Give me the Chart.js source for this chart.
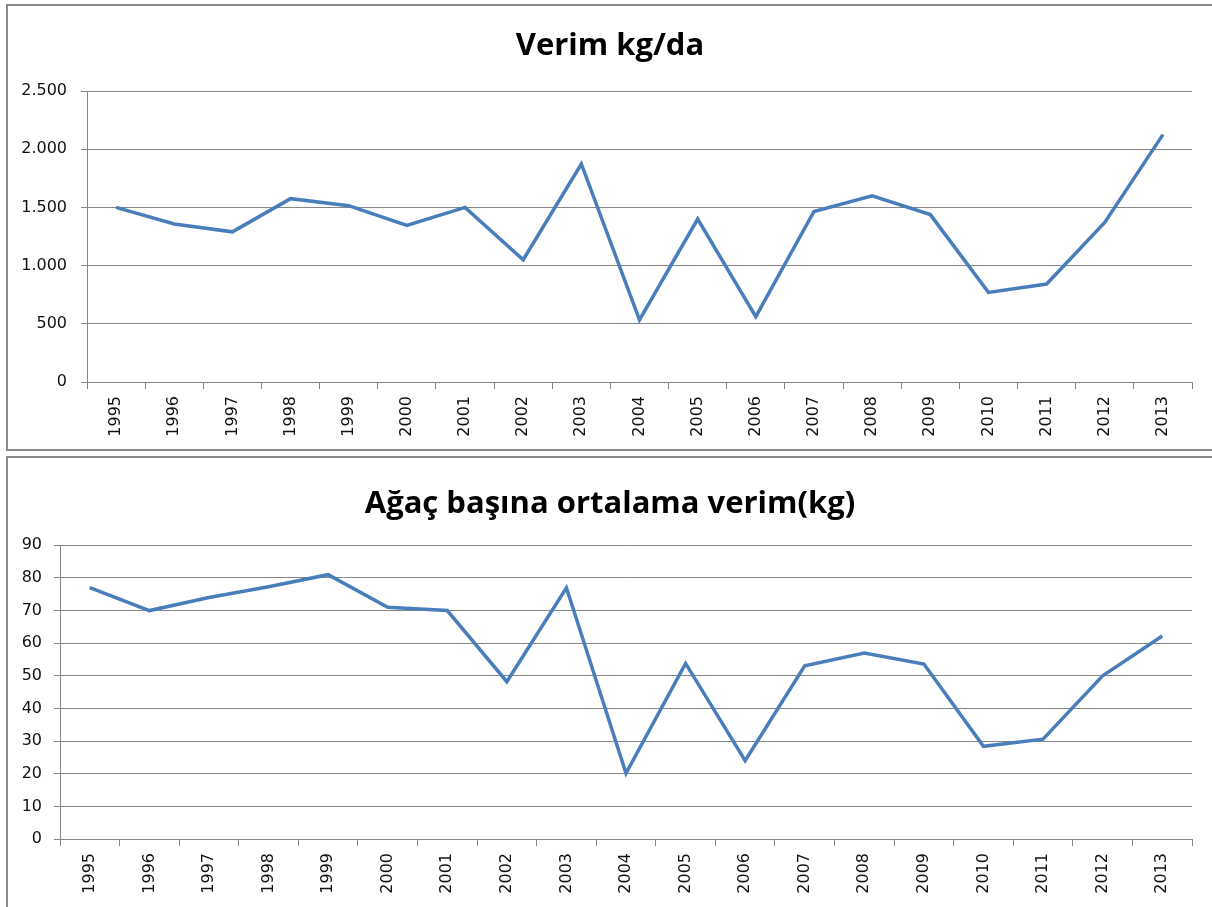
<!DOCTYPE html>
<html>
<head>
<meta charset="utf-8">
<script src="https://cdn.jsdelivr.net/npm/chart.js@4/dist/chart.umd.min.js"></script>
<style>
  html, body { margin:0; padding:0; background:#fff; width:1212px; height:907px; overflow:hidden; }
  .box { position:absolute; box-sizing:border-box; border:2px solid #898989; background:#fff; }
  canvas { position:absolute; left:0; }
</style>
</head>
<body>
<div class="box" style="left:6px; top:4px; width:1230px; height:447px;"></div>
<div class="box" style="left:6px; top:456px; width:1230px; height:470px;"></div>
<canvas id="c1" width="1212" height="452" style="top:0px;"></canvas>
<canvas id="c2" width="1212" height="455" style="top:452px;"></canvas>
<script>
const years = ['1995','1996','1997','1998','1999','2000','2001','2002','2003','2004','2005','2006','2007','2008','2009','2010','2011','2012','2013'];
const yieldPerDa = [1500,1357,1290,1575,1515,1345,1500,1050,1873,533,1400,561,1465,1600,1438,770,842,1370,2125];
const yieldPerTree = [77,70,74,77.3,81,71,70,48.2,77,20.1,53.8,24,53.1,57,53.6,28.4,30.6,50,62.2];
const topTitle = 'Verim kg/da';
const bottomTitle = 'Ağaç başına ortalama verim(kg)';
const topTickValues = [0,500,1000,1500,2000,2500];
const topTickLabels = ['0','500','1.000','1.500','2.000','2.500'];
const bottomTickValues = [0,10,20,30,40,50,60,70,80,90];
const bottomTickLabels = ['0','10','20','30','40','50','60','70','80','90'];

const LINE = '#4A7EBB';
const GRID = '#868686';
const TICKFONT = "'DejaVu Sans', sans-serif";
const TITLEFONT = "'Open Sans', 'DejaVu Sans', sans-serif";

const titlePlugin = {
  id: 'boxTitle',
  afterDraw(chart, args, opts) {
    const ctx = chart.ctx;
    ctx.save();
    ctx.font = 'bold 31px ' + TITLEFONT;
    ctx.fillStyle = '#000';
    ctx.textAlign = 'center';
    ctx.textBaseline = 'alphabetic';
    ctx.fillText(opts.text, opts.x, opts.baseline);
    ctx.restore();
  }
};

function makeChart(id, title, data, tickValues, tickLabels, cfg) {
  return new Chart(document.getElementById(id), {
    type: 'line',
    data: {
      labels: years,
      datasets: [{
        data: data,
        borderColor: LINE,
        backgroundColor: LINE,
        borderWidth: 3.5,
        pointRadius: 0,
        tension: 0,
        borderJoinStyle: 'miter'
      }]
    },
    plugins: [titlePlugin],
    options: {
      responsive: false,
      animation: false,
      devicePixelRatio: 1,
      layout: { padding: { left: 0, right: 20, top: cfg.top, bottom: 0 } },
      plugins: {
        legend: { display: false },
        tooltip: { enabled: false },
        title: { display: false },
        boxTitle: { text: title, x: 610, baseline: cfg.baseline }
      },
      scales: {
        x: {
          offset: true,
          grid: { display: true, drawOnChartArea: false, drawTicks: true, tickLength: 7, color: GRID, offset: true },
          border: { display: true, color: GRID, width: 1 },
          ticks: { color: '#111', font: { family: TICKFONT, size: 16 }, minRotation: 90, maxRotation: 90, padding: 7, autoSkip: false },
          afterFit: (s) => { s.height = cfg.xHeight; }
        },
        y: {
          min: tickValues[0],
          max: tickValues[tickValues.length - 1],
          afterBuildTicks: (s) => { s.ticks = tickValues.map(v => ({ value: v })); },
          grid: { color: GRID, drawTicks: true, tickLength: 6, lineWidth: 1 },
          border: { display: true, color: GRID, width: 1 },
          ticks: {
            color: '#111',
            font: { family: TICKFONT, size: 16 },
            padding: cfg.yPad,
            callback: (v) => { const i = tickValues.indexOf(v); return i >= 0 ? tickLabels[i] : ''; }
          },
          afterFit: (s) => { s.width = cfg.yWidth; }
        }
      }
    }
  });
}

makeChart('c1', topTitle, yieldPerDa, topTickValues, topTickLabels,
  { top: 91, baseline: 55, xHeight: 70, yWidth: 87, yPad: 14 });
makeChart('c2', bottomTitle, yieldPerTree, bottomTickValues, bottomTickLabels,
  { top: 93.3, baseline: 61, xHeight: 68, yWidth: 60, yPad: 12 });
</script>
</body>
</html>
